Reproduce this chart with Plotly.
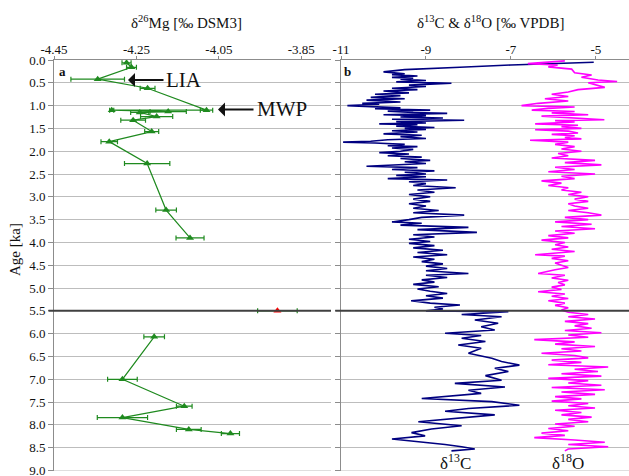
import plotly.graph_objects as go

# ---------------- data ----------------
# Panel a: d26Mg (young part, 0-4 ka)
mg_age_a = [0.06, 0.16, 0.42, 0.62, 1.10, 1.10, 1.13, 1.15, 1.24, 1.32, 1.57, 1.79, 2.27, 3.29, 3.90]
mg_val_a = [-4.274, -4.262, -4.344, -4.223, -4.080, -4.310, -4.173, -4.242, -4.201, -4.258, -4.213, -4.316, -4.224, -4.178, -4.120]
mg_err_a = [0.011, 0.012, 0.065, 0.018, 0.015, 0.005, 0.044, 0.022, 0.039, 0.030, 0.017, 0.020, 0.055, 0.025, 0.034]
# Panel a: d26Mg (old part, 6-8.2 ka)
mg_age_b = [6.07, 7.00, 7.59, 7.84, 8.10, 8.19]
mg_val_b = [-4.207, -4.284, -4.134, -4.284, -4.123, -4.022]
mg_err_b = [0.025, 0.036, 0.019, 0.061, 0.030, 0.022]
# red point at 5.5 ka
red_age = [5.5]
red_val = [-3.908]
red_err = [0.048]

# Panel b: d13C
c_age = [0.05, 0.08, 0.11, 0.16, 0.21, 0.26, 0.30, 0.32, 0.35, 0.38, 0.40, 0.42, 0.45, 0.48, 0.51,
         0.55, 0.58, 0.62, 0.65, 0.68, 0.72, 0.75, 0.78, 0.82, 0.85, 0.88, 0.92, 0.95, 0.97, 1.00,
         1.02, 1.05, 1.07, 1.10, 1.12, 1.15, 1.17, 1.20, 1.22, 1.25, 1.27, 1.30, 1.32, 1.35, 1.38,
         1.40, 1.42, 1.45, 1.48, 1.50, 1.52, 1.55, 1.58, 1.62, 1.65, 1.68, 1.72, 1.75, 1.78, 1.80,
         1.82, 1.85, 1.88, 1.90, 1.93, 1.96, 2.00, 2.03, 2.06, 2.10, 2.13, 2.16, 2.20, 2.23, 2.27,
         2.30, 2.33, 2.36, 2.40, 2.43, 2.46, 2.50, 2.53, 2.56, 2.60, 2.63, 2.67, 2.71, 2.75, 2.80,
         2.85, 2.90, 2.95, 3.00, 3.05, 3.10, 3.15, 3.20, 3.25, 3.30, 3.35, 3.40, 3.45, 3.50, 3.55,
         3.58, 3.62, 3.67, 3.72, 3.78, 3.83, 3.88, 3.93, 3.98, 4.02, 4.07, 4.12, 4.17, 4.22, 4.27,
         4.32, 4.37, 4.42, 4.47, 4.52, 4.57, 4.62, 4.68, 4.72, 4.77, 4.82, 4.87, 4.92, 4.97, 5.02,
         5.07, 5.12, 5.17, 5.22, 5.28, 5.33, 5.37, 5.42, 5.46, 5.50,
         5.52, 5.58, 5.63, 5.70, 5.77, 5.85, 5.92, 5.99, 6.04, 6.10, 6.17, 6.25, 6.32, 6.43, 6.54,
         6.61, 6.69, 6.76, 6.83, 6.92, 7.02, 7.09, 7.17, 7.24, 7.31, 7.42, 7.49, 7.57, 7.64, 7.70,
         7.78, 7.86, 7.93, 8.02, 8.09, 8.17, 8.24, 8.31, 8.37, 8.43, 8.48, 8.53, 8.57]
c_val = [-5.05, -6.2, -7.0, -8.2, -9.5, -10.0, -9.5, -9.8, -9.2, -9.8, -9.3, -9.6, -9.0, -9.7, -8.4,
         -9.4, -9.0, -9.8, -9.2, -10.0, -9.4, -10.2, -9.6, -10.3, -9.5, -10.4, -9.6, -10.5, -10.1, -10.85,
         -10.3, -9.6, -10.2, -8.9, -9.9, -9.3, -8.5, -10.0, -9.0, -9.6, -8.6, -9.8, -8.1, -9.7, -9.0,
         -10.1, -9.2, -9.7, -8.8, -9.5, -9.0, -9.8, -9.2, -10.0, -9.1, -9.6, -9.0, -9.9, -10.3, -10.95,
         -10.2, -9.5, -9.9, -9.2, -9.8, -9.3, -9.6, -10.1, -9.4, -9.9, -9.1, -9.6, -8.9, -9.5, -9.0,
         -9.7, -10.4, -9.2, -9.8, -8.8, -9.5, -9.0, -9.7, -9.0, -9.9, -8.5, -9.4, -9.0, -9.3, -8.3,
         -9.2, -8.8, -9.4, -8.9, -9.3, -8.9, -9.4, -9.0, -9.3, -8.7, -9.3, -8.1, -9.1, -9.4, -9.8,
         -9.1, -9.6, -8.0, -9.2, -7.8, -9.3, -8.8, -9.4, -8.9, -9.4, -8.8, -9.3, -8.6, -9.2, -8.5,
         -9.3, -8.8, -9.1, -8.6, -9.0, -8.5, -9.0, -8.0, -9.0, -8.5, -9.1, -8.8, -9.3, -8.7, -9.2,
         -8.9, -8.5, -9.0, -8.6, -9.35, -8.9, -8.2, -8.8, -8.6, -9.0,
         -7.06, -8.16, -7.22, -7.85, -7.30, -7.7, -7.38, -8.55, -7.7, -8.16, -7.6, -8.24, -7.7, -8.0, -7.45,
         -7.22, -6.8, -7.38, -7.06, -7.6, -7.22, -8.32, -7.14, -8.0, -7.7, -9.1, -7.45, -6.8, -8.0, -8.55,
         -7.38, -8.32, -9.18, -8.16, -8.87, -9.34, -9.02, -9.8, -9.1, -8.55, -8.16, -7.85, -8.4]

# Panel b: d18O
o_age = [0.02, 0.05, 0.08, 0.11, 0.15, 0.20, 0.28, 0.33, 0.38, 0.44, 0.47, 0.50, 0.55, 0.60, 0.65,
         0.70, 0.75, 0.80, 0.85, 0.90, 0.95, 1.00, 1.03, 1.06, 1.10, 1.13, 1.16, 1.20, 1.23, 1.26,
         1.31, 1.33, 1.36, 1.40, 1.43, 1.46, 1.50, 1.53, 1.56, 1.60, 1.63, 1.66, 1.70, 1.73, 1.76,
         1.80, 1.85, 1.90, 1.95, 2.00, 2.05, 2.10, 2.15, 2.20, 2.25, 2.30, 2.35, 2.40, 2.45, 2.50,
         2.55, 2.60, 2.65, 2.70, 2.75, 2.80, 2.85, 2.90, 2.95, 3.00, 3.05, 3.10, 3.15, 3.20, 3.25,
         3.30, 3.35, 3.40, 3.45, 3.50, 3.55, 3.60, 3.65, 3.70, 3.75, 3.80, 3.85, 3.90, 3.95, 4.00,
         4.05, 4.10, 4.15, 4.20, 4.27, 4.30, 4.35, 4.40, 4.45, 4.50, 4.55, 4.60, 4.68, 4.72, 4.78,
         4.83, 4.88, 4.93, 4.98, 5.03, 5.08, 5.13, 5.18, 5.23, 5.28, 5.33, 5.38, 5.43, 5.48,
         5.53, 5.58, 5.63, 5.68, 5.73, 5.78, 5.83, 5.88, 5.93, 5.98, 6.03, 6.08, 6.13, 6.18, 6.23,
         6.28, 6.33, 6.38, 6.43, 6.48, 6.53, 6.58, 6.63, 6.68, 6.73, 6.78, 6.83, 6.88, 6.93, 6.98,
         7.03, 7.08, 7.13, 7.18, 7.23, 7.28, 7.33, 7.38, 7.43, 7.48, 7.53, 7.58, 7.63, 7.68, 7.73,
         7.78, 7.83, 7.88, 7.93, 7.98, 8.03, 8.08, 8.13, 8.18, 8.23, 8.28, 8.33, 8.38, 8.43, 8.48,
         8.53, 8.57]
o_val = [-5.73, -6.2, -6.6, -5.9, -6.12, -5.57, -5.5, -5.1, -5.34, -4.95, -4.5, -5.18, -4.95, -4.79, -5.42,
         -5.65, -6.04, -5.65, -6.2, -5.65, -6.36, -6.75, -5.5, -6.12, -6.51, -5.5, -6.04, -5.18, -6.28, -5.65,
         -4.8, -5.96, -5.5, -6.43, -5.42, -5.81, -5.34, -6.43, -5.65, -5.42, -6.04, -5.5, -5.73, -5.34, -6.55,
         -5.65, -5.96, -5.5, -5.81, -5.34, -5.89, -5.65, -6.04, -5.02, -5.73, -4.87, -5.96, -5.5, -6.12, -5.02,
         -5.81, -5.5, -6.28, -5.81, -6.12, -5.65, -5.81, -5.34, -5.65, -5.18, -5.5, -5.18, -5.65, -5.5, -5.18,
         -5.65, -5.18, -4.87, -5.73, -5.18, -5.96, -5.1, -5.81, -5.02, -5.96, -5.5, -6.12, -5.65, -6.28, -5.73,
         -5.96, -5.65, -6.04, -5.5, -6.43, -5.73, -6.04, -5.65, -5.96, -5.81, -5.65, -5.96, -6.36, -5.73, -6.04,
         -5.65, -5.89, -5.73, -6.04, -5.81, -6.36, -5.73, -6.04, -5.65, -6.12, -5.73, -5.96, -5.65, -5.81,
         -5.65, -5.18, -5.65, -5.02, -5.73, -5.18, -5.5, -5.1, -5.73, -4.87, -5.65, -5.18, -6.45, -5.5, -5.96,
         -5.02, -5.81, -5.34, -6.28, -5.5, -5.18, -6.04, -5.34, -6.12, -4.71, -5.5, -4.95, -5.81, -4.87, -6.12,
         -5.18, -5.65, -4.87, -6.04, -4.79, -5.81, -5.02, -5.96, -5.34, -6.04, -5.18, -5.65, -5.02, -5.96, -5.34,
         -5.81, -5.1, -5.65, -5.18, -5.96, -5.5, -6.12, -5.65, -6.28, -5.73, -6.45, -5.5, -4.79, -5.65, -4.71,
         -5.65, -5.73]

# axis ticks
age_ticks = [i * 0.5 for i in range(19)]
mg_ticks = [-4.45, -4.25, -4.05, -3.85]
co_ticks = [-11, -9, -7, -5]

# ---------------- figure ----------------
W, H = 629, 476
GREEN = "#1f8a1f"
SERIF = "Liberation Serif"


def px_x(p):
    return p / W


def px_y(p):
    return 1 - p / H


fig = go.Figure()

for ages, vals, errs in [(mg_age_a, mg_val_a, mg_err_a), (mg_age_b, mg_val_b, mg_err_b)]:
    fig.add_trace(go.Scatter(
        x=vals, y=ages, mode="lines+markers",
        line=dict(color=GREEN, width=1.2),
        marker=dict(symbol="triangle-up", size=7, color=GREEN),
        error_x=dict(type="data", array=errs, color=GREEN, thickness=1.2, width=2.5),
        xaxis="x", yaxis="y", showlegend=False))

fig.add_trace(go.Scatter(
    x=red_val, y=red_age, mode="markers",
    marker=dict(symbol="triangle-up", size=7, color="#ff0000"),
    error_x=dict(type="data", array=red_err, color=GREEN, thickness=1.2, width=2.5),
    xaxis="x", yaxis="y", showlegend=False))

fig.add_trace(go.Scatter(x=c_val, y=c_age, mode="lines",
                         line=dict(color="#000080", width=1.6),
                         xaxis="x2", yaxis="y2", showlegend=False))
fig.add_trace(go.Scatter(x=o_val, y=o_age, mode="lines",
                         line=dict(color="#ff00ff", width=1.6),
                         xaxis="x2", yaxis="y2", showlegend=False))

top = px_y(60)
bot = px_y(470.5)

axis_common = dict(linecolor="#8c8c8c", linewidth=1, ticks="outside", tickcolor="#8c8c8c",
                   automargin=False, zeroline=False, ticklabeloverflow="allow",
                   tickfont=dict(family=SERIF, size=13, color="#111"))

fig.update_layout(
    width=W, height=H, template="none",
    margin=dict(l=0, r=0, t=0, b=0),
    paper_bgcolor="white", plot_bgcolor="white",
    font=dict(family=SERIF, color="#111"),
    xaxis=dict(domain=[px_x(54), px_x(331)], range=[-4.45, -3.778], side="top",
               tickvals=mg_ticks, ticktext=[f"{t:.2f}" for t in mg_ticks], ticklen=3,
               ticklabelstandoff=-3,
               showgrid=False, showline=True, anchor="y", **axis_common),
    yaxis=dict(domain=[bot, top], range=[9, 0], tickvals=age_ticks,
               ticktext=[f"{t:.1f}" for t in age_ticks], ticklen=5,
               showgrid=True, gridcolor="#bdbdbd", gridwidth=1, showline=True,
               anchor="x", **axis_common),
    xaxis2=dict(domain=[px_x(341), 1.0], range=[-11, -4.22], side="top",
                tickvals=co_ticks, ticktext=[str(t) for t in co_ticks], ticklen=3,
                ticklabelstandoff=-3,
                showgrid=False, showline=True, anchor="y2", **axis_common),
    yaxis2=dict(domain=[bot, top], range=[9, 0], tickvals=age_ticks,
                showticklabels=False, ticklen=5,
                showgrid=True, gridcolor="#bdbdbd", gridwidth=1, showline=True,
                anchor="x2", **axis_common),
)

# separating line at 5.5 ka in both panels
fig.add_shape(type="line", xref="x domain", yref="y", x0=-0.02, x1=1, y0=5.5, y1=5.5,
              line=dict(color="#404040", width=2))
fig.add_shape(type="line", xref="x2 domain", yref="y2", x0=-0.02, x1=1, y0=5.5, y1=5.5,
              line=dict(color="#404040", width=2))
# bottom border lines
fig.add_shape(type="line", xref="x domain", yref="y", x0=0, x1=1, y0=9, y1=9,
              line=dict(color="#bdbdbd", width=1))
fig.add_shape(type="line", xref="x2 domain", yref="y2", x0=0, x1=1, y0=9, y1=9,
              line=dict(color="#bdbdbd", width=1))


def ann(text, x, y, size=14, **kw):
    fig.add_annotation(text=text, xref="paper", yref="paper", x=px_x(x), y=px_y(y),
                       xanchor="center", yanchor="middle",
                       showarrow=False, font=dict(family=SERIF, size=size, color="#111"), **kw)


ann("δ<sup>26</sup>Mg [‰ DSM3]", 186, 22, size=15)
ann("δ<sup>13</sup>C &amp; δ<sup>18</sup>O [‰ VPDB]", 490, 22, size=15)
ann("Age [ka]", 15, 250, size=15, textangle=-90)
ann("<b>a</b>", 62, 71, size=13)
ann("<b>b</b>", 348, 71, size=13)
ann("LIA", 184, 80, size=21)
ann("MWP", 282, 109, size=21)
ann("δ<sup>13</sup>C", 455, 462, size=17)
ann("δ<sup>18</sup>O", 568, 462, size=17)

# arrows for LIA and MWP
for (hx, hy, tx) in [(128, 80, 165), (218, 109.5, 255)]:
    fig.add_annotation(xref="paper", yref="paper", x=px_x(hx), y=px_y(hy),
                       ax=tx - hx, ay=0, text="", showarrow=True,
                       arrowhead=1, arrowsize=1.3, arrowwidth=1.8, arrowcolor="#111",
                       standoff=0, startstandoff=0)

fig.write_html("out.html")
